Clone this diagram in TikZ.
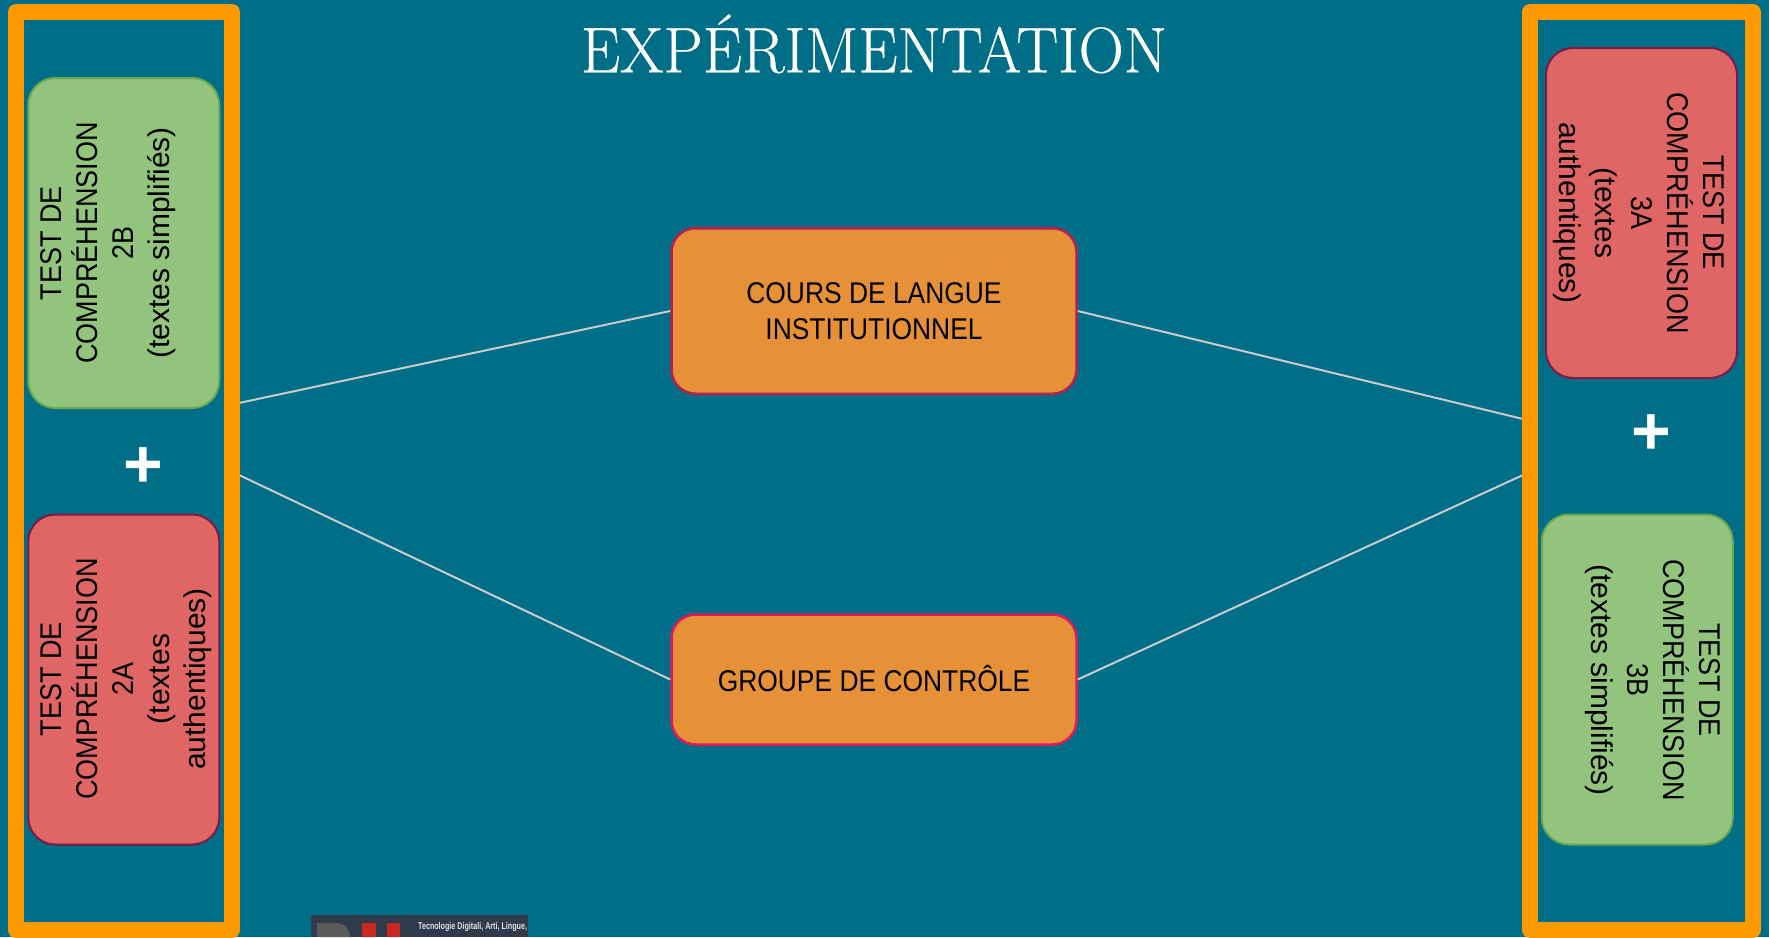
\documentclass[tikz,border=0pt]{standalone}
\usepackage{fontspec}
\setsansfont[FakeStretch=0.9]{Liberation Sans}
\newfontfamily\boxfont[FakeStretch=0.88]{Liberation Sans}
\newfontfamily\lowerfont{Liberation Sans}
\newfontfamily\titlefont[FakeStretch=0.97,FakeBold=0.4]{Latin Modern Roman}
\newfontfamily\plusfont{Liberation Sans}
\newfontfamily\logofont[FakeStretch=0.73]{Liberation Sans}
\definecolor{bgteal}{HTML}{006E87}
\definecolor{frameor}{HTML}{FF9900}
\definecolor{greenfill}{HTML}{93C47D}
\definecolor{greenline}{HTML}{6AA84F}
\definecolor{redfill}{HTML}{E06666}
\definecolor{redline}{HTML}{7E1A45}
\definecolor{orfill}{HTML}{E69138}
\definecolor{crimson}{HTML}{B81E4E}
\definecolor{pinkline}{HTML}{E0195F}
\definecolor{wire}{HTML}{CCCCCC}
\definecolor{logobg}{HTML}{2F3B4A}
\definecolor{logogray}{HTML}{5A5A5A}
\definecolor{logored}{HTML}{C8281E}
\tikzset{
  framebox/.style={draw=frameor,line width=16pt,line join=round,inner sep=0pt,minimum height=918pt},
  testbox/.style={rounded corners=27pt,line width=2pt,inner sep=0pt,outer sep=0pt,minimum width=191pt,minimum height=330pt},
  greenbox/.style={testbox,fill=greenfill,draw=greenline},
  redbox/.style={testbox,fill=redfill,draw=redline},
  mainbox/.style={rounded corners=24pt,line width=2.5pt,fill=orfill,inner sep=0pt,minimum width=405pt,align=center,
    font=\boxfont\fontsize{30}{36}\selectfont},
  testlabel/.style={font=\sffamily\fontsize{30}{36}\selectfont,align=center,inner sep=0pt,outer sep=0pt,anchor=north},
  pluslabel/.style={font=\plusfont\bfseries\fontsize{68}{68}\selectfont,text=white,inner sep=0pt},
  wireline/.style={draw=wire,line width=2pt},
}
\begin{document}
\begin{tikzpicture}[x=1pt,y=-1pt]
\useasboundingbox (0,0) rectangle (1769,937);
\fill[bgteal] (0,0) rectangle (1769,937);

% logo, cut by the page edge
\begin{scope}
\clip (311,915) rectangle (528,937);
\fill[logobg] (311,915) rectangle (528,937);
\fill[logogray] (317,923) -- (335,923) .. controls (346,923) and (350,930) .. (350,937) -- (317,937) -- cycle;
\fill[logored] (362,923) rectangle (376,937);
\fill[logored] (387,923) rectangle (400,937);
\node[text=white!85!logobg,font=\logofont\bfseries\fontsize{9.8}{12}\selectfont,inner sep=0pt,anchor=west] (logotext) at (418,926.5) {Tecnologie Digitali, Arti, Lingue,};
\end{scope}

% connector end points on the frames
\coordinate (lTop) at (239,403);
\coordinate (lBot) at (239,475);
\coordinate (rTop) at (1523,419);
\coordinate (rBot) at (1523,475);

\node[mainbox,draw=crimson,minimum height=165.5pt] (cours) at (874,311) {\raisebox{-1pt}{COURS DE LANGUE}\\\raisebox{-1pt}{INSTITUTIONNEL}};
\node[mainbox,draw=pinkline,minimum height=130pt] (groupe) at (874,679.5) {\raisebox{1.5pt}{GROUPE DE CONTRÔLE}};

\draw[wireline] (lTop) -- (cours.west);
\draw[wireline] (cours.east) -- (rTop);
\draw[wireline] (lBot) -- (groupe.west);
\draw[wireline] (groupe.east) -- (rBot);

\node[framebox,minimum width=216pt] (frameL) at (124,471) {};
\node[framebox,minimum width=222.5pt] (frameR) at (1641.25,471) {};

\node[greenbox] (b2B) at (123.75,243) {};
\node[redbox] (b2A) at (123.75,679.5) {};
\node[redbox] (b3A) at (1641.5,213) {};
\node[greenbox] (b3B) at (1637.25,679.5) {};

\node[testlabel,rotate=90] (t2B) at (40.5,243) {TEST DE\\COMPRÉHENSION\\2B\\{\lowerfont (textes simplifiés)}};
\node[testlabel,rotate=90] (t2A) at (40.5,679) {TEST DE\\COMPRÉHENSION\\2A\\{\lowerfont (textes}\\{\lowerfont authentiques)}};
\node[testlabel,rotate=-90] (t3A) at (1724,213) {TEST DE\\COMPRÉHENSION\\3A\\{\lowerfont (textes}\\{\lowerfont authentiques)}};
\node[testlabel,rotate=-90] (t3B) at (1720,680) {TEST DE\\COMPRÉHENSION\\3B\\{\lowerfont (textes simplifiés)}};

\node[pluslabel] (plusL) at (143,468) {+};
\node[pluslabel] (plusR) at (1651,435) {+};

\node[font=\titlefont\fontsize{64.5}{70}\selectfont,text=white,inner sep=0pt,anchor=base] (title) at (874,72.3) {EXPÉRIMENTATION};
\end{tikzpicture}
\end{document}
